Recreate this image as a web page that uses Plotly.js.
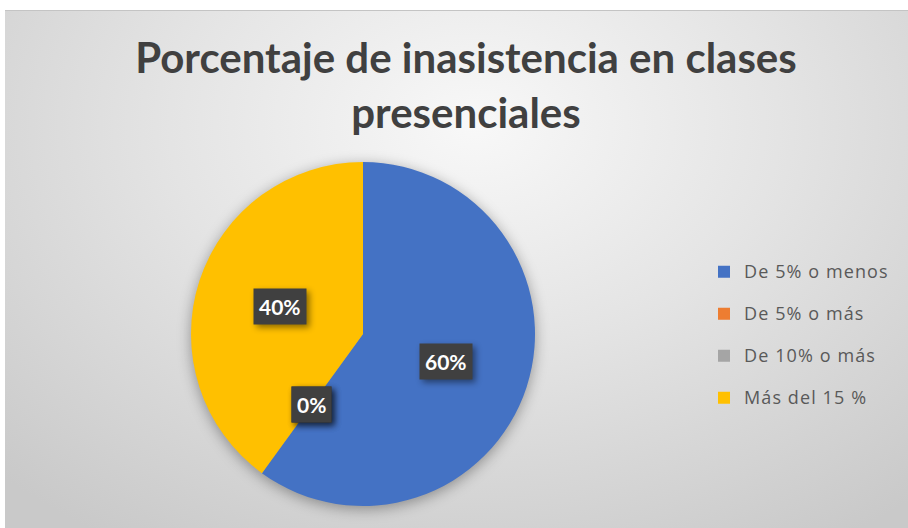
<!DOCTYPE html>
<html>
<head>
<meta charset="utf-8">
<script src="https://cdn.plot.ly/plotly-3.0.1.min.js"></script>
<style>
  html, body { margin: 0; padding: 0; background: #ffffff; }
  #wrap { position: relative; width: 908px; height: 528px; overflow: hidden; background: #ffffff; }
  #bg { position: absolute; left: 5px; top: 10px; width: 903px; height: 518px;
        background: radial-gradient(ellipse 75% 95% at 52% 22%, #f8f8f8 0%, #e4e4e4 45%, #c9c9c9 100%);
        border-top: 1px solid #c4c4c4; box-sizing: border-box; }
  #chart { position: absolute; left: 0; top: 0; width: 908px; height: 528px; }
  .pielayer { filter: drop-shadow(0px 3px 7px rgba(0,0,0,0.35)); }
  .annotation rect.bg { filter: drop-shadow(3px 3px 3px rgba(0,0,0,0.45)); }
  .legendtext { letter-spacing: 1.1px; }
</style>
</head>
<body>
<div id="wrap"><div id="bg"></div><div id="chart"></div></div>
<script>
const categories = ['De 5% o menos', 'De 5% o más', 'De 10% o más', 'Más del 15 %'];
const values = [60, 0, 0, 40];
const sliceColors = ['#4472C4', '#ED7D31', '#A5A5A5', '#FFC000'];
const chartTitle = 'Porcentaje de inasistencia en clases<br>presenciales';

const W = 908, H = 528;
const cx = 363, cy = 334, R = 172;   // pie placement in pixels
const labelFrac = 0.51;

const total = values.reduce((a, b) => a + b, 0);

// percentage label boxes, positioned from the data (mid-angle of each slice)
const annotations = [];
let cum = 0;
values.forEach((v, i) => {
  const mid = (cum + v / 2) / total * 2 * Math.PI; // clockwise from 12 o'clock
  cum += v;
  const px = cx + labelFrac * R * Math.sin(mid);
  const py = cy - labelFrac * R * Math.cos(mid);
  annotations.push({
    xref: 'paper', yref: 'paper',
    x: px / W, y: 1 - py / H,
    xanchor: 'center', yanchor: 'middle',
    text: '<b>' + Math.round(v / total * 100) + '%</b>',
    showarrow: false,
    bgcolor: '#404040',
    borderpad: 5,
    font: { family: 'Lato, "Open Sans", sans-serif', size: 21, color: '#ffffff' }
  });
});

const trace = {
  type: 'pie',
  values: values,
  labels: categories.map(c => ' <br><span style="font-size:18px">' + c + '</span>'),
  marker: { colors: sliceColors, line: { width: 0 } },
  sort: false,
  direction: 'clockwise',
  rotation: 0,
  textinfo: 'none',
  hoverinfo: 'skip',
  domain: { x: [(cx - R) / W, (cx + R) / W], y: [1 - (cy + R) / H, 1 - (cy - R) / H] }
};

const layout = {
  width: W, height: H,
  margin: { l: 0, r: 0, t: 0, b: 0 },
  paper_bgcolor: 'rgba(0,0,0,0)',
  plot_bgcolor: 'rgba(0,0,0,0)',
  title: {
    text: chartTitle,
    x: 466 / W, xanchor: 'center',
    y: 1 - 73 / H, yanchor: 'top', yref: 'container',
    font: { family: 'Lato, "Open Sans", sans-serif', size: 42, color: '#404040', weight: 'bold' }
  },
  showlegend: true,
  legend: {
    x: 704 / W, xanchor: 'left',
    y: 1 - 236 / H, yanchor: 'top',
    valign: 'bottom',
    font: { family: '"Open Sans", Lato, sans-serif', size: 15, color: '#595959' },
    bgcolor: 'rgba(0,0,0,0)'
  },
  annotations: annotations
};

Plotly.newPlot('chart', [trace], layout, { displayModeBar: false, staticPlot: true });
</script>
</body>
</html>
